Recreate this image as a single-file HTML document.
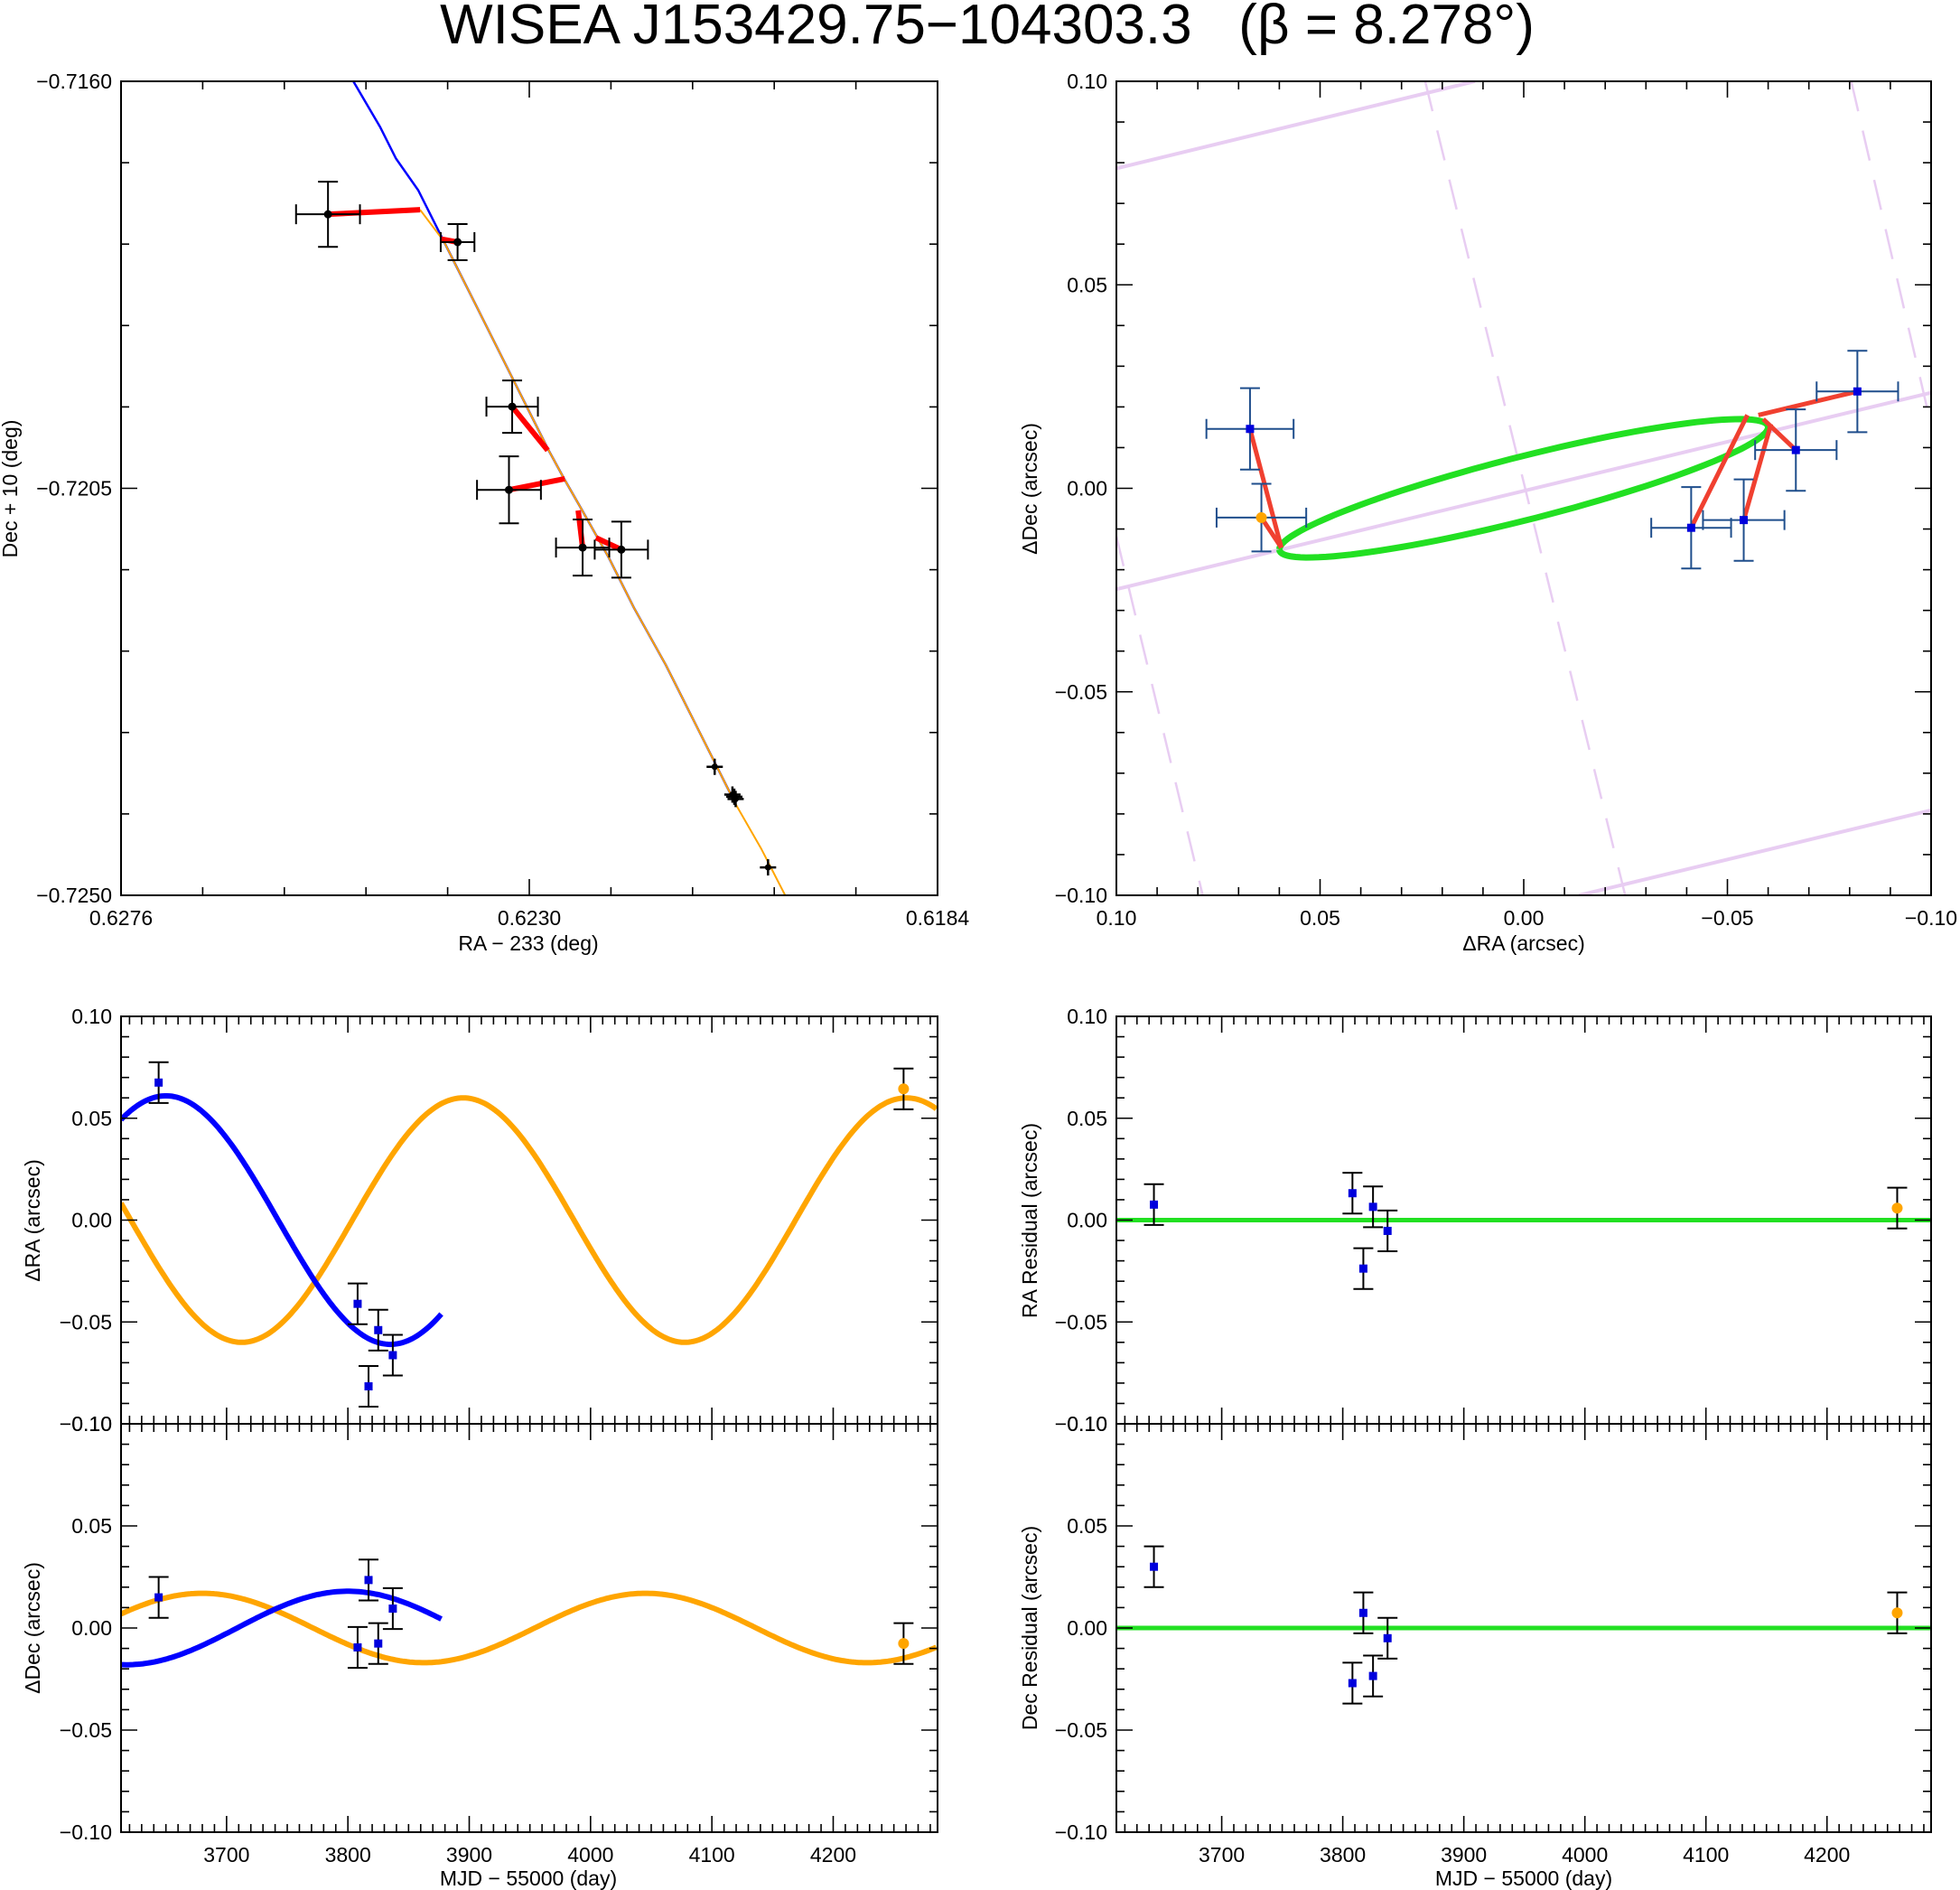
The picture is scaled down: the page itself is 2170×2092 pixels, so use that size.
<!DOCTYPE html>
<html><head><meta charset="utf-8">
<style>
html,body{margin:0;padding:0;background:#fff;}
svg{display:block;font-family:"Liberation Sans",sans-serif;}
text{fill:#000;}
</style></head>
<body>
<svg id="fig" xmlns="http://www.w3.org/2000/svg" width="2170" height="2092" viewBox="0 0 2170 2092">
<rect x="0" y="0" width="2170" height="2092" fill="#fff"/>
<text x="1093" y="48" font-size="62" text-anchor="middle" style="white-space:pre">WISEA J153429.75−104303.3   (β = 8.278°)</text>
<text x="585" y="1052" font-size="23" text-anchor="middle">RA − 233 (deg)</text>
<text transform="translate(19,541) rotate(-90)" font-size="23" text-anchor="middle">Dec + 10 (deg)</text>
<text x="1687" y="1052" font-size="23" text-anchor="middle">ΔRA (arcsec)</text>
<text transform="translate(1148,541) rotate(-90)" font-size="23" text-anchor="middle">ΔDec (arcsec)</text>
<text transform="translate(44,1351) rotate(-90)" font-size="23" text-anchor="middle">ΔRA (arcsec)</text>
<text transform="translate(44,1802) rotate(-90)" font-size="23" text-anchor="middle">ΔDec (arcsec)</text>
<text x="585" y="2087" font-size="23" text-anchor="middle">MJD − 55000 (day)</text>
<text x="1687" y="2087" font-size="23" text-anchor="middle">MJD − 55000 (day)</text>
<text transform="translate(1148,1351) rotate(-90)" font-size="23" text-anchor="middle">RA Residual (arcsec)</text>
<text transform="translate(1148,1802) rotate(-90)" font-size="23" text-anchor="middle">Dec Residual (arcsec)</text>
</svg>
<script>
// ---------- data: top-left (sky path) ----------
const tlObsRA   = [0.625268,0.623808,0.623193,0.623229,0.622399,0.621963];
const tlObsDec  = [-0.71747,-0.717778,-0.719597,-0.720517,-0.721155,-0.721178];
const tlErrRA   = [0.00036,0.00019,0.00029,0.00036,0.00030,0.00030];
const tlErrDec  = [0.00036,0.00020,0.00029,0.00037,0.00031,0.00031];
const tlModRA   = [0.62423,0.624002,0.622793,0.6226,0.622449,0.622249];
const tlModDec  = [-0.71742,-0.717743,-0.72008,-0.720395,-0.720745,-0.721046];
const tlSmallRA  = [0.620911,0.620711,0.620675,0.62069,0.62031];
const tlSmallDec = [-0.723579,-0.723886,-0.723935,-0.72391,-0.724691];
const tlBlueRA  = [0.624982,0.624681,0.624502,0.624252,0.623966,0.623608,0.62325,0.622785,0.622607,0.622428,0.622106,0.62182,0.621462,0.621104,0.620675];
const tlBlueDec = [-0.7160,-0.716504,-0.716854,-0.717204,-0.717764,-0.718463,-0.719163,-0.720073,-0.720395,-0.720703,-0.721262,-0.721822,-0.722452,-0.723152,-0.723992];
const tlOrgRA   = [0.62423,0.623966,0.623608,0.62325,0.622785,0.622607,0.622428,0.622106,0.62182,0.621462,0.621104,0.620675,0.620389,0.620117];
const tlOrgDec  = [-0.71742,-0.717764,-0.718463,-0.719163,-0.720073,-0.720395,-0.720703,-0.721262,-0.721822,-0.722452,-0.723152,-0.723992,-0.724482,-0.7250];
// ---------- data: top-right (relative positions) ----------
const trRA    = [0.0672,-0.0411,-0.054,-0.0668,-0.0819];
const trDec   = [0.0146,-0.0097,-0.0078,0.0094,0.0238];
const trErrRA = [0.0107,0.0098,0.0100,0.0100,0.0100];
const trErrDec= [0.0100,0.0100,0.0100,0.0100,0.0100];
const trModRA = [0.0595,-0.0549,-0.0607,-0.0588,-0.0576];
const trModDec= [-0.0146,0.018,0.0158,0.0170,0.0180];
const trOrgRA = [0.0644], trOrgDec=[-0.0072], trOrgErrRA=[0.011], trOrgErrDec=[0.0083];
const trOrgModRA=[0.0595], trOrgModDec=[-0.0146];
const ellipseParams = [0.060, 0.017, 0.49]; // RA amplitude, Dec amplitude, phase
// ---------- data: bottom panels ----------
const mjdBlue = [3644,3808,3817,3825,3837];
const dRABlue = [0.0675,-0.0411,-0.0816,-0.054,-0.0663];
const dDecBlue= [0.015,-0.0095,0.0235,-0.0076,0.0095];
const mjdOrg = [4258];
const dRAOrg = [0.0644];
const dDecOrg= [-0.0076];
const errBar = [0.010,0.010,0.010,0.010,0.010];
const resRABlue = [0.0076,0.0132,-0.0238,0.0065,-0.0053];
const resDecBlue= [0.030,-0.027,0.0074,-0.0235,-0.005];
const resRAOrg = [0.0059];
const resDecOrg= [0.0074];
// model sinusoids: [amplitude, epoch of maximum, period]
const raOrgModel  = [0.060,3895,365.25];
const raBlueModel = [0.061,3650,370];
const decOrgModel = [0.017,3680,365.25];
const decBlueModel= [0.018,3800,365.25];
const blueRange = [3613,3878];
const orgRange  = [3613,4286];

const NS='http://www.w3.org/2000/svg';
const svg=document.getElementById('fig');
function mk(tag, attrs, name, parent){
  const e=document.createElementNS(NS,tag);
  for(const k in attrs) e.setAttribute(k, attrs[k]);
  
  
  (parent||svg).appendChild(e);
  return e;
}
function scale(d0,d1,p0,p1){return v=>p0+(v-d0)/(d1-d0)*(p1-p0);}
function fmt(v,dec){const s=Math.abs(v).toFixed(dec);return (v< -1e-9?'−':'')+s;}
let clipId=0;
function makeClip(x0,y0,x1,y1){
  const defs=mk('defs',{},'clip-defs');
  const cp=mk('clipPath',{id:'c'+(++clipId)},'clip-path',defs);
  mk('rect',{x:x0,y:y0,width:x1-x0,height:y1-y0},'clip-rect',cp);
  return mk('g',{'clip-path':'url(#c'+clipId+')'},'plot-area');
}
function frame(x0,y0,x1,y1,name){
  mk('rect',{x:x0,y:y0,width:x1-x0,height:y1-y0,fill:'none',stroke:'#000','stroke-width':2},name);
}
function xTicks(sx,y0,y1,start,step,n,majorEvery,majorOffset,labels,dec,name){
  for(let i=0;i<=n;i++){
    const v=start+step*i, X=sx(v), maj=(i%majorEvery===majorOffset)?1:0;
    const L=maj?18:9;
    mk('line',{x1:X,y1:y1,x2:X,y2:y1-L,stroke:'#000','stroke-width':1.6},name+'-tick');
    mk('line',{x1:X,y1:y0,x2:X,y2:y0+L,stroke:'#000','stroke-width':1.6},name+'-tick-top');
    if(maj&&labels){
      const t=mk('text',{x:X,y:y1+33,'font-size':23,'text-anchor':'middle'},name+'-label');
      t.textContent=fmt(v,dec);
    }
  }
}
function yTicks(sy,x0,x1,start,step,n,majorEvery,labels,dec,name){
  for(let i=0;i<=n;i++){
    const v=start+step*i, Y=sy(v), maj=(i%majorEvery===0)?1:0;
    const L=maj?18:9;
    mk('line',{x1:x0,y1:Y,x2:x0+L,y2:Y,stroke:'#000','stroke-width':1.6},name+'-tick');
    mk('line',{x1:x1,y1:Y,x2:x1-L,y2:Y,stroke:'#000','stroke-width':1.6},name+'-tick-right');
    if(maj&&labels){
      const t=mk('text',{x:x0-10,y:Y+8,'font-size':23,'text-anchor':'end'},name+'-label');
      t.textContent=fmt(v,dec);
    }
  }
}
function poly(g,xs,ys,sx,sy,attrs,name){
  const pts=xs.map((x,i)=>sx(x).toFixed(1)+','+sy(ys[i]).toFixed(1)).join(' ');
  const a=Object.assign({points:pts,fill:'none'},attrs);
  return mk('polyline',a,name,g);
}
function errX(g,x,y,ex,sx,sy,col,cap,name){
  mk('line',{x1:sx(x-ex),y1:sy(y),x2:sx(x+ex),y2:sy(y),stroke:col,'stroke-width':2},name,g);
  [x-ex,x+ex].forEach(v=>mk('line',{x1:sx(v),y1:sy(y)-cap,x2:sx(v),y2:sy(y)+cap,stroke:col,'stroke-width':2},name+'-cap',g));
}
function errY(g,x,y,ey,sx,sy,col,cap,name){
  mk('line',{x1:sx(x),y1:sy(y-ey),x2:sx(x),y2:sy(y+ey),stroke:col,'stroke-width':2},name,g);
  [y-ey,y+ey].forEach(v=>mk('line',{x1:sx(x)-cap,y1:sy(v),x2:sx(x)+cap,y2:sy(v),stroke:col,'stroke-width':2},name+'-cap',g));
}
function sq(g,x,y,sx,sy,name){mk('rect',{x:sx(x)-4.5,y:sy(y)-4.5,width:9,height:9,fill:'#0000dd'},name,g);}
function circ(g,x,y,sx,sy,name){mk('circle',{cx:sx(x),cy:sy(y),r:6,fill:'#ffa500'},name,g);}

// ================= TOP LEFT =================
(function(){
  const x0=134,x1=1038,y0=90,y1=991;
  const sx=scale(0.6276,0.6184,x0,x1), sy=scale(-0.7160,-0.7250,y0,y1);
  const g=makeClip(x0,y0,x1,y1);
  poly(g,tlBlueRA,tlBlueDec,sx,sy,{stroke:'#0000ff','stroke-width':2.5},'tl-blue-path');
  poly(g,tlOrgRA,tlOrgDec,sx,sy,{stroke:'#ffa500','stroke-width':2},'tl-orange-path');
  for(let i=0;i<tlObsRA.length;i++){
    mk('line',{x1:sx(tlObsRA[i]),y1:sy(tlObsDec[i]),x2:sx(tlModRA[i]),y2:sy(tlModDec[i]),stroke:'#ff0000','stroke-width':6},'tl-residual-line',g);
  }
  for(let i=0;i<tlObsRA.length;i++){
    errX(g,tlObsRA[i],tlObsDec[i],tlErrRA[i],sx,sy,'#000',11,'tl-ra-errorbar');
    errY(g,tlObsRA[i],tlObsDec[i],tlErrDec[i],sx,sy,'#000',11,'tl-dec-errorbar');
    mk('circle',{cx:sx(tlObsRA[i]),cy:sy(tlObsDec[i]),r:4.5,fill:'#000'},'tl-observation',g);
  }
  for(let i=0;i<tlSmallRA.length;i++){
    const X=sx(tlSmallRA[i]),Y=sy(tlSmallDec[i]);
    mk('line',{x1:X-9,y1:Y,x2:X+9,y2:Y,stroke:'#000','stroke-width':2.5},'tl-small-marker',g);
    mk('line',{x1:X,y1:Y-9,x2:X,y2:Y+9,stroke:'#000','stroke-width':2.5},'tl-small-marker',g);
    mk('circle',{cx:X,cy:Y,r:3.5,fill:'#000'},'tl-small-point',g);
  }
  frame(x0,y0,x1,y1,'tl-frame');
  xTicks(sx,y0,y1,0.6276,-0.00092,10,5,0,true,4,'tl-x');
  yTicks(sy,x0,x1,-0.7160,-0.0009,10,5,true,4,'tl-y');
})();

// ================= TOP RIGHT =================
(function(){
  const x0=1236,x1=2138,y0=90,y1=991;
  const sx=scale(0.10,-0.10,x0,x1), sy=scale(0.10,-0.10,y0,y1);
  const g=makeClip(x0,y0,x1,y1);
  const pink='#e8cdf2';
  const solid=[[0.10,-0.0248,-0.10,0.0235],[0.10,0.0786,0.012,0.10],[-0.0136,-0.10,-0.10,-0.0791]];
  solid.forEach(s=>mk('line',{x1:sx(s[0]),y1:sy(s[1]),x2:sx(s[2]),y2:sy(s[3]),stroke:pink,'stroke-width':4},'tr-ecliptic-line',g));
  const dashed=[[0.0242,0.10,-0.0249,-0.10],[0.10,-0.0118,0.0788,-0.10],[-0.0804,0.10,-0.10,0.0155]];
  dashed.forEach(s=>mk('line',{x1:sx(s[0]),y1:sy(s[1]),x2:sx(s[2]),y2:sy(s[3]),stroke:pink,'stroke-width':2.5,'stroke-dasharray':'34 22'},'tr-dashed-line',g));
  const ex=[],ey=[];
  for(let k=0;k<=120;k++){const t=k/120*2*Math.PI;ex.push(ellipseParams[0]*Math.cos(t));ey.push(-ellipseParams[1]*Math.cos(t-ellipseParams[2]));}
  poly(g,ex,ey,sx,sy,{stroke:'#22e022','stroke-width':7},'tr-parallax-ellipse');
  for(let i=0;i<trRA.length;i++)
    mk('line',{x1:sx(trRA[i]),y1:sy(trDec[i]),x2:sx(trModRA[i]),y2:sy(trModDec[i]),stroke:'#f04030','stroke-width':5},'tr-residual-line',g);
  mk('line',{x1:sx(trOrgRA[0]),y1:sy(trOrgDec[0]),x2:sx(trOrgModRA[0]),y2:sy(trOrgModDec[0]),stroke:'#f04030','stroke-width':5},'tr-residual-line',g);
  const ec='#1f4e8c';
  for(let i=0;i<trRA.length;i++){
    errX(g,trRA[i],trDec[i],trErrRA[i],sx,sy,ec,11,'tr-ra-errorbar');
    errY(g,trRA[i],trDec[i],trErrDec[i],sx,sy,ec,11,'tr-dec-errorbar');
    sq(g,trRA[i],trDec[i],sx,sy,'tr-observation');
  }
  errX(g,trOrgRA[0],trOrgDec[0],trOrgErrRA[0],sx,sy,ec,11,'tr-ra-errorbar');
  errY(g,trOrgRA[0],trOrgDec[0],trOrgErrDec[0],sx,sy,ec,11,'tr-dec-errorbar');
  circ(g,trOrgRA[0],trOrgDec[0],sx,sy,'tr-orange-observation');
  frame(x0,y0,x1,y1,'tr-frame');
  xTicks(sx,y0,y1,0.10,-0.01,20,5,0,true,2,'tr-x');
  yTicks(sy,x0,x1,0.10,-0.01,20,5,true,2,'tr-y');
})();

// ================= BOTTOM PANELS =================
function sine(m,t){return m[0]*Math.cos(2*Math.PI*(t-m[1])/m[2]);}
function timePanel(x0,x1,y0,y1,showXLabels,name,fn){
  const sx=scale(3613,4286,x0,x1), sy=scale(0.10,-0.10,y0,y1);
  const g=makeClip(x0,y0,x1,y1);
  fn(g,sx,sy);
  frame(x0,y0,x1,y1,name+'-frame');
  xTicks(sx,y0,y1,3620,10,66,10,8,showXLabels,0,name+'-x');
  yTicks(sy,x0,x1,0.10,-0.01,20,5,true,2,name+'-y');
}
function modelCurve(g,sx,sy,m,range,col,name){
  const xs=[],ys=[];
  for(let t=range[0];t<=range[1];t+=2){xs.push(t);ys.push(sine(m,t));}
  poly(g,xs,ys,sx,sy,{stroke:col,'stroke-width':6},name);
}
function pts(g,sx,sy,xs,ys,errs,orgX,orgY,name){
  for(let i=0;i<xs.length;i++){errY(g,xs[i],ys[i],errs[i],sx,sy,'#000',11,name+'-errorbar');sq(g,xs[i],ys[i],sx,sy,name+'-point');}
  for(let i=0;i<orgX.length;i++){errY(g,orgX[i],orgY[i],0.01,sx,sy,'#000',11,name+'-errorbar');circ(g,orgX[i],orgY[i],sx,sy,name+'-orange-point');}
}
timePanel(134,1038,1125,1576,false,'bl-top',(g,sx,sy)=>{
  modelCurve(g,sx,sy,raOrgModel,orgRange,'#ffa500','bl-ra-orange-model');
  modelCurve(g,sx,sy,raBlueModel,blueRange,'#0000ff','bl-ra-blue-model');
  pts(g,sx,sy,mjdBlue,dRABlue,errBar,mjdOrg,dRAOrg,'bl-ra');
});
timePanel(134,1038,1576,2028,true,'bl-bottom',(g,sx,sy)=>{
  modelCurve(g,sx,sy,decOrgModel,orgRange,'#ffa500','bl-dec-orange-model');
  modelCurve(g,sx,sy,decBlueModel,blueRange,'#0000ff','bl-dec-blue-model');
  pts(g,sx,sy,mjdBlue,dDecBlue,errBar,mjdOrg,dDecOrg,'bl-dec');
});
timePanel(1236,2138,1125,1576,false,'br-top',(g,sx,sy)=>{
  mk('line',{x1:sx(3613),y1:sy(0),x2:sx(4286),y2:sy(0),stroke:'#22e022','stroke-width':5},'br-ra-zero-line',g);
  pts(g,sx,sy,mjdBlue,resRABlue,errBar,mjdOrg,resRAOrg,'br-ra-res');
});
timePanel(1236,2138,1576,2028,true,'br-bottom',(g,sx,sy)=>{
  mk('line',{x1:sx(3613),y1:sy(0),x2:sx(4286),y2:sy(0),stroke:'#22e022','stroke-width':5},'br-dec-zero-line',g);
  pts(g,sx,sy,mjdBlue,resDecBlue,errBar,mjdOrg,resDecOrg,'br-dec-res');
});
</script>
</body></html>
